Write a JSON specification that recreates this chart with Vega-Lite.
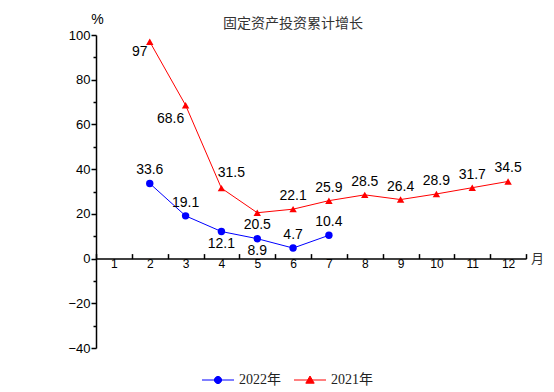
{
  "$schema": "https://vega.github.io/schema/vega-lite/v6.json",
  "width": 430,
  "height": 313,
  "autosize": {"type": "none"},
  "padding": {"left": 96, "top": 35, "right": 28, "bottom": 44},
  "background": "white",
  "title": {"text": "固定资产投资累计增长", "font": "Noto Sans CJK SC", "fontSize": 14, "fontWeight": "normal", "color": "#333333", "anchor": "middle", "dx": -18, "offset": -33, "baseline": "bottom"},
  "config": {"view": {"stroke": null}},
  "data": {"values": [
    {"series": "2022年", "month": 2, "value": 33.6},
    {"series": "2022年", "month": 3, "value": 19.1},
    {"series": "2022年", "month": 4, "value": 12.1},
    {"series": "2022年", "month": 5, "value": 8.9},
    {"series": "2022年", "month": 6, "value": 4.7},
    {"series": "2022年", "month": 7, "value": 10.4},
    {"series": "2021年", "month": 2, "value": 97},
    {"series": "2021年", "month": 3, "value": 68.6},
    {"series": "2021年", "month": 4, "value": 31.5},
    {"series": "2021年", "month": 5, "value": 20.5},
    {"series": "2021年", "month": 6, "value": 22.1},
    {"series": "2021年", "month": 7, "value": 25.9},
    {"series": "2021年", "month": 8, "value": 28.5},
    {"series": "2021年", "month": 9, "value": 26.4},
    {"series": "2021年", "month": 10, "value": 28.9},
    {"series": "2021年", "month": 11, "value": 31.7},
    {"series": "2021年", "month": 12, "value": 34.5}
  ]},
  "resolve": {"axis": {"y": "independent"}},
  "layer": [
    {
      "transform": [{"filter": "datum.series === '2021年'"}],
      "mark": {"type": "line", "color": "#ff0000", "strokeWidth": 1, "point": {"shape": "triangle-up", "filled": true, "size": 55, "color": "#ff0000"}},
      "encoding": {
        "x": {"field": "month", "type": "ordinal", "scale": {"type": "band", "domain": [1,2,3,4,5,6,7,8,9,10,11,12], "paddingInner": 0, "paddingOuter": 0},
          "axis": {"orient": "bottom", "offset": -89.4, "tickBand": "extent", "domainColor": "black", "domainWidth": 1.5, "tickColor": "black", "tickWidth": 1.5, "tickSize": -5, "labelFont": "Liberation Sans", "labelFontSize": 12, "labelColor": "black", "labelPadding": 5, "labelAngle": 0, "grid": false,
            "title": "月", "titleFont": "Noto Sans CJK SC", "titleFontSize": 13, "titleFontWeight": "normal", "titleColor": "#333333", "titleX": 441, "titleY": 0, "titleAlign": "center", "titleBaseline": "middle"}},
        "y": {"field": "value", "type": "quantitative", "scale": {"domain": [-40, 100], "nice": false, "zero": false},
          "axis": {"orient": "left", "values": [-40,-20,0,20,40,60,80,100], "domainColor": "black", "domainWidth": 1.5, "tickColor": "black", "tickWidth": 1.5, "tickSize": 5, "labelFont": "Liberation Sans", "labelFontSize": 13, "labelColor": "black", "labelPadding": 1, "grid": false,
            "title": "%", "titleAngle": 0, "titleX": 1, "titleY": -16, "titleAlign": "center", "titleBaseline": "middle", "titleFont": "Liberation Sans", "titleFontSize": 14, "titleFontWeight": "normal", "titleColor": "black"}}
      }
    },
    {
      "transform": [{"filter": "datum.series === '2022年'"}],
      "mark": {"type": "line", "color": "#0000ff", "strokeWidth": 1, "point": {"shape": "circle", "filled": true, "size": 55, "color": "#0000ff"}},
      "encoding": {
        "x": {"field": "month", "type": "ordinal"},
        "y": {"field": "value", "type": "quantitative",
          "axis": {"orient": "left", "values": [-30,-10,10,30,50,70,90], "labels": false, "domain": false, "tickColor": "black", "tickWidth": 1.5, "tickSize": 3, "grid": false, "title": null}}
      }
    },
    {
      "transform": [{"filter": "!((datum.series === '2021年' && (datum.month <= 5)) || (datum.series === '2022年' && (datum.month === 4 || datum.month === 5)))"}],
      "mark": {"type": "text", "font": "Liberation Sans", "fontSize": 14, "color": "black", "baseline": "middle", "align": "center", "dy": -13},
      "encoding": {
        "x": {"field": "month", "type": "ordinal"},
        "y": {"field": "value", "type": "quantitative", "axis": null},
        "text": {"field": "value", "type": "quantitative"}
      }
    },
    {
      "transform": [{"filter": "(datum.series === '2021年' && datum.month === 5) || (datum.series === '2022年' && (datum.month === 4 || datum.month === 5))"}],
      "mark": {"type": "text", "font": "Liberation Sans", "fontSize": 14, "color": "black", "baseline": "middle", "align": "center", "dy": 12},
      "encoding": {
        "x": {"field": "month", "type": "ordinal"},
        "y": {"field": "value", "type": "quantitative", "axis": null},
        "text": {"field": "value", "type": "quantitative"}
      }
    },
    {
      "transform": [{"filter": "datum.series === '2021年' && datum.month === 2"}],
      "mark": {"type": "text", "font": "Liberation Sans", "fontSize": 14, "color": "black", "baseline": "middle", "align": "center", "dx": -10, "dy": 10},
      "encoding": {
        "x": {"field": "month", "type": "ordinal"},
        "y": {"field": "value", "type": "quantitative", "axis": null},
        "text": {"field": "value", "type": "quantitative"}
      }
    },
    {
      "transform": [{"filter": "datum.series === '2021年' && datum.month === 3"}],
      "mark": {"type": "text", "font": "Liberation Sans", "fontSize": 14, "color": "black", "baseline": "middle", "align": "center", "dx": -15, "dy": 14},
      "encoding": {
        "x": {"field": "month", "type": "ordinal"},
        "y": {"field": "value", "type": "quantitative", "axis": null},
        "text": {"field": "value", "type": "quantitative"}
      }
    },
    {
      "transform": [{"filter": "datum.series === '2021年' && datum.month === 4"}],
      "mark": {"type": "text", "font": "Liberation Sans", "fontSize": 14, "color": "black", "baseline": "middle", "align": "center", "dx": 10, "dy": -15},
      "encoding": {
        "x": {"field": "month", "type": "ordinal"},
        "y": {"field": "value", "type": "quantitative", "axis": null},
        "text": {"field": "value", "type": "quantitative"}
      }
    },
    {
      "mark": {"type": "point", "filled": true, "opacity": 0},
      "encoding": {
        "x": {"field": "month", "type": "ordinal"},
        "y": {"field": "value", "type": "quantitative", "axis": null},
        "color": {"field": "series", "type": "nominal", "scale": {"domain": ["2022年", "2021年"], "range": ["#0000ff", "#ff0000"]},
          "legend": {"orient": "none", "legendX": 100, "legendY": 338, "direction": "horizontal", "title": null, "symbolSize": 64, "symbolStrokeWidth": 1, "symbolOffset": 15, "labelOffset": 14, "labelFont": "Liberation Serif, Noto Sans CJK SC", "labelFontSize": 14, "labelColor": "#222222", "columnPadding": 7, "symbolOpacity": 1}},
        "stroke": {"field": "series", "type": "nominal", "scale": {"domain": ["2022年", "2021年"], "range": ["#0000ff", "#ff0000"]},
          "legend": {"orient": "none", "legendX": 100, "legendY": 338, "direction": "horizontal", "title": null, "symbolSize": 64, "symbolStrokeWidth": 1, "symbolOffset": 15, "labelOffset": 14, "labelFont": "Liberation Serif, Noto Sans CJK SC", "labelFontSize": 14, "labelColor": "#222222", "columnPadding": 7, "symbolOpacity": 1}},
        "shape": {"field": "series", "type": "nominal", "scale": {"domain": ["2022年", "2021年"], "range": ["M-4,0H4M-0.9,0A0.9,0.9,0,1,1,0.9,0A0.9,0.9,0,1,1,-0.9,0Z", "M-4,0H4M0,-1.0L1.05,0.8L-1.05,0.8Z"]},
          "legend": {"orient": "none", "legendX": 100, "legendY": 338, "direction": "horizontal", "title": null, "symbolSize": 64, "symbolStrokeWidth": 1, "symbolOffset": 15, "labelOffset": 14, "labelFont": "Liberation Serif, Noto Sans CJK SC", "labelFontSize": 14, "labelColor": "#222222", "columnPadding": 7, "symbolOpacity": 1}}
      }
    }
  ]
}
